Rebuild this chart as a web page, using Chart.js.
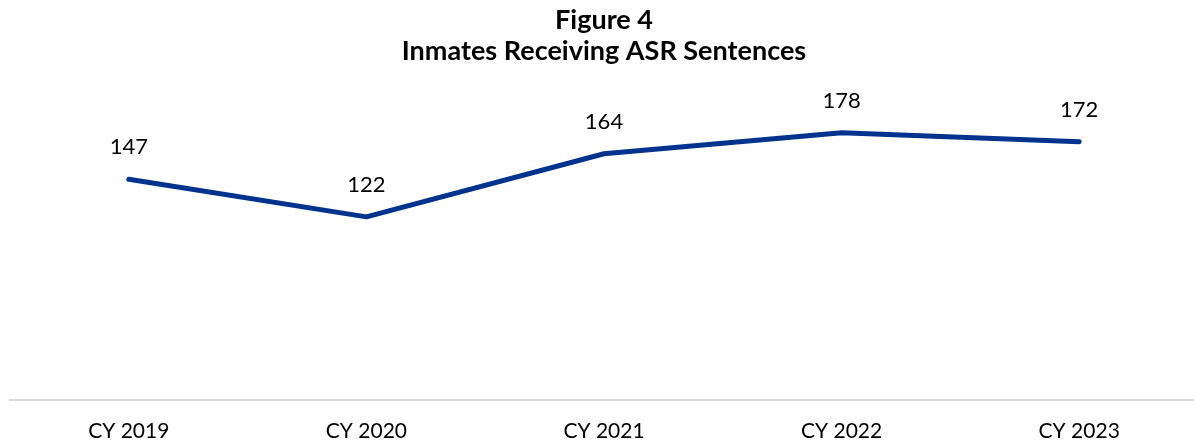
<!DOCTYPE html>
<html lang="en">
<head>
  <meta charset="UTF-8">
  <title>Figure 4</title>
  <script src="https://cdn.jsdelivr.net/npm/chart.js"></script>
  <style>
    html, body { margin: 0; padding: 0; background: #fff; overflow: hidden; }
    .wrap { width: 1200px; height: 463px; }
  </style>
</head>
<body>
  <div class="wrap">
    <canvas id="asrChart"></canvas>
  </div>

  <script>
  const years = ["CY 2019", "CY 2020", "CY 2021", "CY 2022", "CY 2023"];
  const inmates = [147, 122, 164, 178, 172];
  const titleLines = ["Figure 4", "Inmates Receiving ASR Sentences"];

  const FONT = "Lato, 'Open Sans', sans-serif";

  // value labels above each point
  const pointLabels = {
    id: 'pointLabels',
    afterDatasetsDraw(chart) {
      const ctx = chart.ctx;
      const meta = chart.getDatasetMeta(0);
      ctx.save();
      ctx.font = "22px " + FONT;
      ctx.fillStyle = '#000';
      ctx.textAlign = 'center';
      ctx.textBaseline = 'middle';
      meta.data.forEach((pt, i) => {
        ctx.fillText(inmates[i], pt.x, pt.y - 32);
      });
      ctx.restore();
    }
  };

  new Chart(document.getElementById('asrChart'), {
    type: 'line',
    data: {
      labels: years,
      datasets: [{
        data: inmates,
        borderColor: '#00338D',
        borderWidth: 5,
        borderCapStyle: 'round',
        borderJoinStyle: 'round',
        pointRadius: 0,
        tension: 0,
        fill: false
      }]
    },
    options: {
      responsive: true,
      maintainAspectRatio: false,
      animation: false,
      layout: { padding: { left: 10, right: 2, top: 0, bottom: 0 } },
      plugins: {
        legend: { display: false },
        tooltip: { enabled: false },
        title: {
          display: true,
          text: titleLines,
          color: '#000',
          font: { family: FONT, size: 27, weight: 'bold', lineHeight: 1.18 },
          padding: { top: 4, bottom: 32 }
        }
      },
      scales: {
        x: {
          offset: true,
          grid: { display: false, drawTicks: false },
          border: { display: true, color: '#d9d9d9', width: 2 },
          ticks: {
            color: '#000',
            font: { family: FONT, size: 21, lineHeight: 0.9 },
            padding: 22,
            maxRotation: 0
          }
        },
        y: {
          display: false,
          min: 0,
          max: 200
        }
      }
    },
    plugins: [pointLabels]
  });
  </script>
</body>
</html>
